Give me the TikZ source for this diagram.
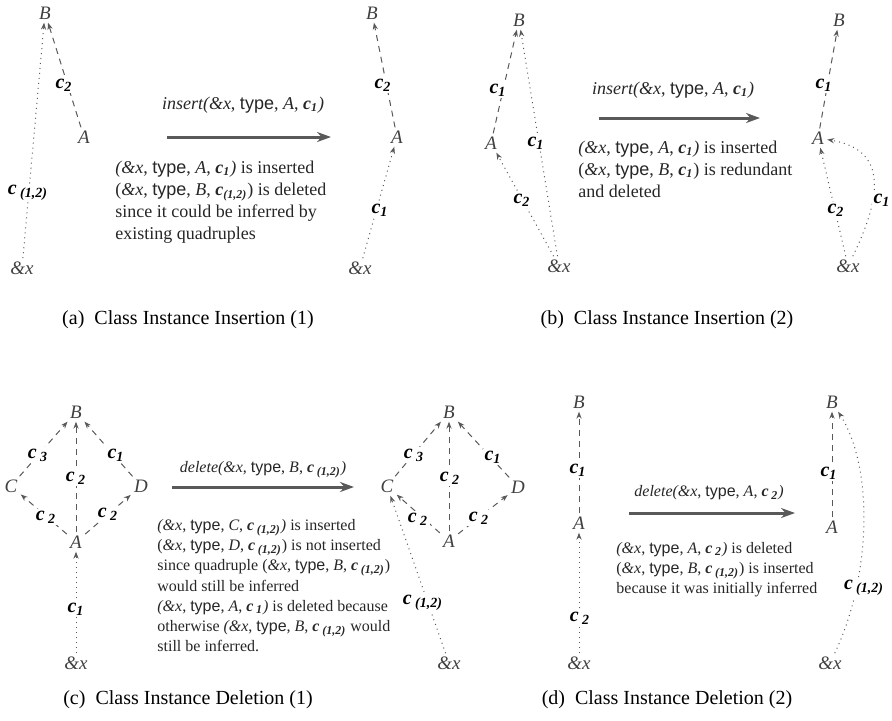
\documentclass[tikz,border=0pt]{standalone}
\usepackage{fontspec}
\setmainfont{Liberation Serif}
\newfontfamily\typefont{Liberation Sans}
\usetikzlibrary{arrows.meta}

\newcommand{\ty}{{\typefont type}}
\newcommand{\qc}[1]{{\bfseries\itshape c\textsubscript{#1}}}
\newcommand{\qcs}[1]{{\bfseries\itshape c\,\textsubscript{#1}}}
\newcommand{\ax}{\textit{\&x}}

\tikzset{
  vert/.style={font=\itshape\fontsize{9.5}{11}\selectfont, text=black!75, inner sep=1.5pt},
  elab/.style={font=\fontsize{10}{12}\selectfont, fill=white, inner sep=0.8pt},
  dashedge/.style={draw=black!65, line width=0.5pt, dash pattern=on 3pt off 2.5pt, -{Stealth[length=3.5pt,width=2.6pt]}},
  dotedge/.style={draw=black!65, line width=0.5pt, dotted, -{Stealth[length=3.5pt,width=2.6pt]}},
  bigarrow/.style={draw=black!65, line width=1.5pt, -{Stealth[length=7pt,width=5pt]}},
  oplabel/.style={font=\fontsize{9}{11}\selectfont, text=black!85},
  note/.style={font=\fontsize{9}{11}\selectfont, align=left, anchor=north west, text=black!85, inner sep=0pt},
  capt/.style={font=\fontsize{10}{12}\selectfont}
}

\begin{document}
\begin{tikzpicture}[x=0.5pt, y=-0.5pt]
    \useasboundingbox (0,0) rectangle (892,720);

    % (a) before
    \node[vert] (aB1) at (45,13) {B};
    \node[vert] (aA1) at (84,137) {A};
    \node[vert] (aX1) at (22,268) {\&x};
    \draw[dotedge] (aX1) -- (aB1);
    \draw[dashedge] (aA1) -- (aB1);
    \node[elab] (al1) at (28,193) {\qcs{(1,2)}};
    \node[elab] (al2) at (64,85) {\qc{2}};

    % (a) operation
    \coordinate (aS) at (167,137);
    \coordinate (aE) at (331,137);
    \draw[bigarrow] (aS) -- (aE);
    \node[oplabel] (aop) at (243,105) {\textit{insert(\&x}, \ty, \textit{A}, \qc{1}\textit{)}};
    \node[note] (atxt) at (115,161)
      {\textit{(\&x}, \ty, \textit{A}, \qc{1}\textit{)} is inserted\\
       (\ax, \ty, \textit{B}, \qc{(1,2)}) is deleted\\
       since it could be inferred by\\
       existing quadruples};

    % (a) after
    \node[vert] (aB2) at (372,13) {B};
    \node[vert] (aA2) at (397,137) {A};
    \node[vert] (aX2) at (360,268) {\&x};
    \draw[dashedge] (aA2) -- (aB2);
    \draw[dotedge] (aX2) -- (aA2);
    \node[elab] (al3) at (383,85) {\qc{2}};
    \node[elab] (al4) at (380,210) {\qc{1}};

    \node[capt] (acap) at (188,320) {(a)\enspace Class Instance Insertion (1)};

    % (b) before
    \node[vert] (bB1) at (519,20) {B};
    \node[vert] (bA1) at (491,143) {A};
    \node[vert] (bX1) at (559,266) {\&x};
    \draw[dashedge] (bA1) -- (bB1);
    \draw[dotedge] (bX1) -- (bB1);
    \draw[dotedge] (bX1) -- (bA1);
    \node[elab] (bl1) at (498,90) {\qc{1}};
    \node[elab] (bl2) at (536,143) {\qc{1}};
    \node[elab] (bl3) at (522,200) {\qc{2}};

    % (b) operation
    \coordinate (bS) at (599,118);
    \coordinate (bE) at (760,118);
    \draw[bigarrow] (bS) -- (bE);
    \node[oplabel] (bop) at (673,90) {\textit{insert(\&x}, \ty, \textit{A}, \qc{1}\textit{)}};
    \node[note] (btxt) at (578,141)
      {\textit{(\&x}, \ty, \textit{A}, \qc{1}\textit{)} is inserted\\
       (\ax, \ty, \textit{B}, \qc{1}) is redundant\\
       and deleted};

    % (b) after
    \node[vert] (bB2) at (839,20) {B};
    \node[vert] (bA2) at (818,138) {A};
    \node[vert] (bX2) at (848,266) {\&x};
    \draw[dashedge] (bA2) -- (bB2);
    \draw[dotedge] (bX2) -- (bA2);
    \draw[dotedge] (bX2) .. controls (880,200) and (890,150) .. (bA2);
    \node[elab] (bl4) at (824,85) {\qc{1}};
    \node[elab] (bl5) at (836,210) {\qc{2}};
    \node[elab] (bl6) at (882,200) {\qc{1}};

    \node[capt] (bcap) at (667,320) {(b)\enspace Class Instance Insertion (2)};

    % (c) before
    \node[vert] (cB1) at (76,412) {B};
    \node[vert] (cC1) at (11,486) {C};
    \node[vert] (cD1) at (141,486) {D};
    \node[vert] (cA1) at (76,542) {A};
    \node[vert] (cX1) at (76,663) {\&x};
    \draw[dashedge] (cC1) -- (cB1);
    \draw[dashedge] (cA1) -- (cB1);
    \draw[dashedge] (cD1) -- (cB1);
    \draw[dashedge] (cA1) -- (cC1);
    \draw[dashedge] (cA1) -- (cD1);
    \draw[dotedge] (cX1) -- (cA1);
    \node[elab] (cl1) at (38,455) {\qcs{3}};
    \node[elab] (cl2) at (76,478) {\qcs{2}};
    \node[elab] (cl3) at (116,455) {\qc{1}};
    \node[elab] (cl4) at (46,517) {\qcs{2}};
    \node[elab] (cl5) at (108,514) {\qcs{2}};
    \node[elab] (cl6) at (76,609) {\qc{1}};

    % (c) operation
    \coordinate (cS) at (172,487);
    \coordinate (cE) at (354,487);
    \draw[bigarrow] (cS) -- (cE);
    \node[oplabel, font=\fontsize{8}{10}\selectfont] (cop) at (263,470) {\textit{delete(\&x}, \ty, \textit{B}, \qcs{(1,2)}\textit{)}};
    \node[note, font=\fontsize{8}{10.1}\selectfont] (ctxt) at (157,519)
      {\textit{(\&x}, \ty, \textit{C}, \qcs{(1,2)}\textit{)} is inserted\\
       (\ax, \ty, \textit{D}, \qcs{(1,2)}) is not inserted\\
       since quadruple (\ax, \ty, \textit{B}, \qcs{(1,2)})\\
       would still be inferred\\
       \textit{(\&x}, \ty, \textit{A}, \qcs{1}\textit{)} is deleted because\\
       otherwise \textit{(\&x}, \ty, \textit{B}, \qcs{(1,2)} would\\
       still be inferred.};

    % (c) after
    \node[vert] (cB2) at (449,412) {B};
    \node[vert] (cC2) at (387,486) {C};
    \node[vert] (cD2) at (518,487) {D};
    \node[vert] (cA2) at (449,541) {A};
    \node[vert] (cX2) at (449,663) {\&x};
    \draw[dashedge] (cC2) -- (cB2);
    \draw[dashedge] (cA2) -- (cB2);
    \draw[dashedge] (cD2) -- (cB2);
    \draw[dashedge] (cA2) -- (cC2);
    \draw[dashedge] (cA2) -- (cD2);
    \draw[dotedge] (cX2) -- (cC2);
    \node[elab] (cl7) at (414,455) {\qcs{3}};
    \node[elab] (cl8) at (450,478) {\qcs{2}};
    \node[elab] (cl9) at (493,457) {\qc{1}};
    \node[elab] (cl10) at (418,519) {\qcs{2}};
    \node[elab] (cl11) at (479,518) {\qcs{2}};
    \node[elab] (cl12) at (423,603) {\qcs{(1,2)}};

    \node[capt] (ccap) at (188,700) {(c)\enspace Class Instance Deletion (1)};

    % (d) before
    \node[vert] (dB1) at (579,402) {B};
    \node[vert] (dA1) at (579,523) {A};
    \node[vert] (dX1) at (579,663) {\&x};
    \draw[dashedge] (dA1) -- (dB1);
    \draw[dotedge] (dX1) -- (dA1);
    \node[elab] (dl1) at (578,470) {\qc{1}};
    \node[elab] (dl2) at (580,618) {\qcs{2}};

    % (d) operation
    \coordinate (dS) at (629,513);
    \coordinate (dE) at (795,513);
    \draw[bigarrow] (dS) -- (dE);
    \node[oplabel, font=\fontsize{8}{10}\selectfont] (dop) at (709,493) {\textit{delete(\&x}, \ty, \textit{A}, \qcs{2}\textit{)}};
    \node[note, font=\fontsize{8}{10}\selectfont] (dtxt) at (616,542)
      {\textit{(\&x}, \ty, \textit{A}, \qcs{2}\textit{)} is deleted\\
       (\ax, \ty, \textit{B}, \qcs{(1,2)}) is inserted\\
       because it was initially inferred};

    % (d) after
    \node[vert] (dB2) at (832,402) {B};
    \node[vert] (dA2) at (832,527) {A};
    \node[vert] (dX2) at (830,663) {\&x};
    \draw[dashedge] (dA2) -- (dB2);
    \draw[dotedge] (dX2) .. controls (870,580) and (875,470) .. (dB2);
    \node[elab] (dl3) at (829,473) {\qc{1}};
    \node[elab] (dl4) at (864,588) {\qcs{(1,2)}};

    \node[capt] (dcap) at (667,700) {(d)\enspace Class Instance Deletion (2)};
\end{tikzpicture}
\end{document}
